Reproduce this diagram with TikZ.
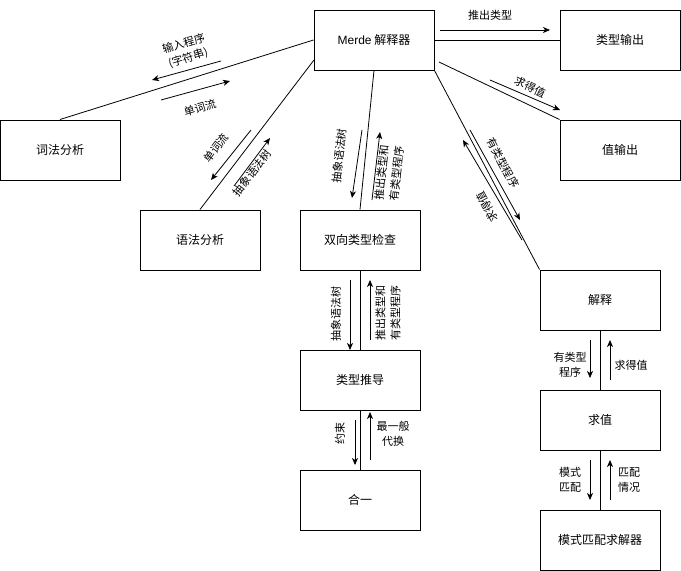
\documentclass[tikz,border=0pt]{standalone}
\usepackage{fontspec}
\setmainfont{Noto Sans CJK SC}
\newfontfamily\latinfont{Liberation Sans}
\usetikzlibrary{arrows.meta}
\tikzset{
    box/.style={draw, line width=1pt, minimum width=120pt, minimum height=60pt, inner sep=0pt, font=\fontsize{12}{14}\selectfont},
    lbl/.style={inner sep=0pt, align=center, font=\fontsize{11}{15}\selectfont},
    arr/.style={-{Stealth[length=7pt,width=6pt,inset=2pt]}, line width=0.8pt},
    link/.style={line width=0.8pt},
}
\begin{document}
\begin{tikzpicture}[x=1pt,y=-1pt]
        \useasboundingbox (0,0) rectangle (681,571);

        % boxes
        \node[box] (merde) at (374,40) {{\latinfont Merde} 解释器};
        \node[box] (typeout) at (620,40) {类型输出};
        \node[box] (valout) at (620,150) {值输出};
        \node[box] (lexer) at (60,150) {词法分析};
        \node[box] (parser) at (200,240) {语法分析};
        \node[box] (bidir) at (360,240) {双向类型检查};
        \node[box] (infer) at (360,380) {类型推导};
        \node[box] (unify) at (360,500) {合一};
        \node[box] (interp) at (600,300) {解释};
        \node[box] (eval) at (600,420) {求值};
        \node[box] (pmsolve) at (600,540) {模式匹配求解器};

        % links
        \coordinate (merde-l) at (314,60);
        \coordinate (merde-r) at (439,62);
        \draw[link] (merde.west) -- (lexer.north);
        \draw[link] (merde-l) -- (parser.north);
        \draw[link] (merde.south) -- (bidir.north);
        \draw[link] (merde.east) -- (typeout.west);
        \draw[link] (merde-r) -- (valout.north west);
        \draw[link] (merde.south east) -- (interp.north west);
        \draw[link] (bidir.south) -- (infer.north);
        \draw[link] (infer.south) -- (unify.north);
        \draw[link] (interp.south) -- (eval.north);
        \draw[link] (eval.south) -- (pmsolve.north);

        % lexer
        \draw[arr] (221,61) -- (152,80);
        \node[lbl, rotate=17] (l-src) at (186,51) {输入程序\\(字符串)};
        \draw[arr] (161,100) -- (230,81);
        \node[lbl, rotate=17] (l-tok) at (200,108) {单词流};

        % parser
        \draw[arr] (251,130) -- (211,180);
        \node[lbl, rotate=53] (l-tok2) at (216,148) {单词流};
        \draw[arr] (234,186) -- (270,138);
        \node[lbl, rotate=53] (l-ast) at (252,173) {抽象语法树};

        % type check
        \draw[arr] (362,130) -- (352,198);
        \node[lbl, rotate=84] (l-ast2) at (339,156) {抽象语法树};
        \draw[arr] (372,200) -- (380,132);
        \node[lbl, rotate=84] (l-typed) at (389,173) {推出类型和\\有类型程序};

        % outputs
        \draw[arr] (440,30) -- (550,30);
        \node[lbl] (l-ty) at (490,15) {推出类型};
        \draw[arr] (490,80) -- (560,110);
        \node[lbl, rotate=-25] (l-val) at (530,87) {求得值};

        % interp
        \draw[arr] (470,130) -- (520,220);
        \node[lbl, rotate=-62] (l-prog) at (503,163) {有类型程序};
        \draw[arr] (522,240) -- (463,140);
        \node[lbl, rotate=118] (l-val2) at (487,207) {求得值};

        % infer
        \draw[arr] (350,280) -- (350,350);
        \node[lbl, rotate=90] (l-ast3) at (336,314) {抽象语法树};
        \draw[arr] (370,340) -- (370,280);
        \node[lbl, rotate=90] (l-typed2) at (388,313) {推出类型和\\有类型程序};
        \draw[arr] (355,420) -- (355,465);
        \node[lbl, rotate=90] (l-cons) at (340,433) {约束};
        \draw[arr] (370,460) -- (370,412);
        \node[lbl] (l-mgu) at (393,434) {最一般\\代换};

        % eval
        \draw[arr] (590,340) -- (590,378);
        \node[lbl] (l-prog2) at (570,365) {有类型\\程序};
        \draw[arr] (610,380) -- (610,340);
        \node[lbl] (l-val3) at (631,365) {求得值};
        \draw[arr] (590,460) -- (590,500);
        \node[lbl] (l-pat) at (570,480) {模式\\匹配};
        \draw[arr] (610,500) -- (610,460);
        \node[lbl] (l-case) at (629,480) {匹配\\情况};
    \end{tikzpicture}
\end{document}
